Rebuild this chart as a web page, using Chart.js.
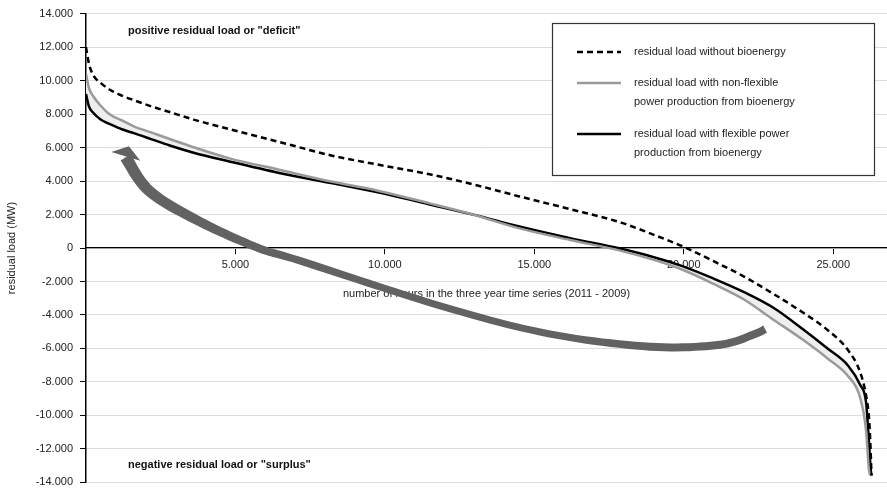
<!DOCTYPE html>
<html>
<head>
<meta charset="utf-8">
<script src="https://cdn.jsdelivr.net/npm/chart.js@4.4.0/dist/chart.umd.min.js"></script>
<style>
  html, body { margin: 0; padding: 0; background: #fff; }
  #wrap { width: 887px; height: 496px; }
</style>
</head>
<body>
<div id="wrap"><canvas id="loadChart" width="887" height="496"></canvas></div>
<script>
// hours of the sorted duration curve (x) and residual load in MW (y)
var hours = [0, 100, 250, 500, 800, 1200, 1600, 2200, 2800, 3600, 4800, 6500, 8200, 9800, 11500, 13000,
             14500, 16200, 17900, 19000, 20000, 21000, 22000, 23000, 24000, 24800, 25500, 25900, 26100, 26200, 26250, 26280];
var withoutBio = [12000, 11000, 10300, 9850, 9450, 9100, 8830, 8450, 8120, 7670, 7100, 6320, 5530, 4970, 4400, 3780,
                  3080, 2320, 1517, 787, 70, -790, -1690, -2740, -3870, -4880, -6110, -7410, -8810, -10210, -11960, -13590];
var nonFlexible = [10400, 9550, 9050, 8480, 7970, 7620, 7270, 6890, 6510, 6020, 5355, 4660, 3970, 3410, 2665, 1970,
                   1170, 480, -170, -710, -1330, -2150, -3060, -4280, -5500, -6580, -7660, -8930, -10900, -13300, -13550, -13600];
var flexible = [9200, 8450, 8060, 7660, 7400, 7090, 6860, 6490, 6120, 5690, 5165, 4470, 3880, 3320, 2600, 1980,
                1280, 583, -50, -550, -1110, -1830, -2620, -3570, -4870, -5990, -7030, -8170, -9220, -11670, -13130, -13600];

var xTickValues = [5000, 10000, 15000, 20000, 25000];
var seriesNames = ['residual load without bioenergy',
                   'residual load with non-flexible power production from bioenergy',
                   'residual load with flexible power production from bioenergy'];
var legendLines = [['residual load without bioenergy'],
                   ['residual load with non-flexible', 'power production from bioenergy'],
                   ['residual load with flexible power', 'production from bioenergy']];
var deficitText = 'positive residual load or "deficit"';
var surplusText = 'negative residual load or "surplus"';
var xTitle = 'number of hours in the three year time series (2011 - 2009)';
var yTitle = 'residual load (MW)';

// the curved arrow (hours / MW), from the head to the tail
var arrowHours = [1326, 2132, 3806, 5766, 7152, 11940, 15520, 18870, 21210, 22380, 22720];
var arrowLoads = [5425, 3383, 1575, 0, -758, -3500, -5133, -5892, -5775, -5133, -4840];
var arrowHead = [[1436, 6084], [847, 5734], [1818, 5209]];

var FONT = '"Liberation Sans", Arial, Helvetica, sans-serif';
Chart.defaults.font.family = FONT;
Chart.defaults.font.size = 11;
Chart.defaults.color = '#222';

function fmt(v) {
    var s = Math.abs(v).toString().replace(/\B(?=(\d{3})+(?!\d))/g, '.');
    return (v < 0 ? '-' : '') + s;
}

function toXY(values) {
    return hours.map(function (h, i) { return { x: h, y: values[i] }; });
}

var decor = {
    id: 'decor',
    beforeDatasetsDraw: function (chart) {
        var ctx = chart.ctx, xs = chart.scales.x, ys = chart.scales.y;
        var widths = [12, 11, 9.5, 8, 7.5, 7, 7, 8, 8, 8, 8];
        var pts = arrowHours.map(function (h, i) {
            return { x: xs.getPixelForValue(h), y: ys.getPixelForValue(arrowLoads[i]), w: widths[i] };
        });
        // catmull-rom through the points
        var samp = [];
        for (var i = 0; i < pts.length - 1; i++) {
            var p0 = pts[Math.max(i - 1, 0)], p1 = pts[i], p2 = pts[i + 1], p3 = pts[Math.min(i + 2, pts.length - 1)];
            for (var s = 0; s < 12; s++) {
                var t = s / 12, t2 = t * t, t3 = t2 * t;
                samp.push({
                    x: 0.5 * (2 * p1.x + (-p0.x + p2.x) * t + (2 * p0.x - 5 * p1.x + 4 * p2.x - p3.x) * t2 + (-p0.x + 3 * p1.x - 3 * p2.x + p3.x) * t3),
                    y: 0.5 * (2 * p1.y + (-p0.y + p2.y) * t + (2 * p0.y - 5 * p1.y + 4 * p2.y - p3.y) * t2 + (-p0.y + 3 * p1.y - 3 * p2.y + p3.y) * t3),
                    w: p1.w + (p2.w - p1.w) * t
                });
            }
        }
        samp.push(pts[pts.length - 1]);
        var left = [], right = [];
        samp.forEach(function (p, k) {
            var a = samp[Math.max(k - 1, 0)], b = samp[Math.min(k + 1, samp.length - 1)];
            var dx = b.x - a.x, dy = b.y - a.y, len = Math.sqrt(dx * dx + dy * dy) || 1;
            var nx = -dy / len, ny = dx / len;
            left.push([p.x + nx * p.w / 2, p.y + ny * p.w / 2]);
            right.push([p.x - nx * p.w / 2, p.y - ny * p.w / 2]);
        });
        ctx.save();
        ctx.fillStyle = '#626262';
        ctx.beginPath();
        left.forEach(function (p, k) { if (k === 0) ctx.moveTo(p[0], p[1]); else ctx.lineTo(p[0], p[1]); });
        for (var j = right.length - 1; j >= 0; j--) ctx.lineTo(right[j][0], right[j][1]);
        ctx.closePath();
        ctx.fill();
        ctx.beginPath();
        arrowHead.forEach(function (p, k) {
            var px = xs.getPixelForValue(p[0]), py = ys.getPixelForValue(p[1]);
            if (k === 0) ctx.moveTo(px, py); else ctx.lineTo(px, py);
        });
        ctx.closePath();
        ctx.fill();
        ctx.restore();
    },
    afterDraw: function (chart) {
        var ctx = chart.ctx, area = chart.chartArea;
        ctx.save();
        // region labels
        ctx.font = 'bold 11px ' + FONT;
        ctx.fillStyle = '#111';
        ctx.textBaseline = 'middle';
        ctx.textAlign = 'left';
        ctx.fillText(deficitText, area.left + 42, area.top + 17);
        ctx.fillText(surplusText, area.left + 42, area.bottom - 17);

        // legend box
        var bx = 552, by = 23, bw = 322, bh = 152;
        ctx.fillStyle = '#fff';
        ctx.fillRect(bx, by, bw, bh);
        ctx.strokeStyle = '#333';
        ctx.lineWidth = 1.2;
        ctx.strokeRect(bx + 0.5, by + 0.5, bw, bh);
        var rows = [52, 83, 134];
        var styles = [
            { color: '#000', dash: [6, 4] },
            { color: '#9a9a9a', dash: [] },
            { color: '#000', dash: [] }
        ];
        ctx.font = '11px ' + FONT;
        rows.forEach(function (y, i) {
            ctx.strokeStyle = styles[i].color;
            ctx.lineWidth = 2.5;
            ctx.setLineDash(styles[i].dash);
            ctx.beginPath();
            ctx.moveTo(577, y);
            ctx.lineTo(621, y);
            ctx.stroke();
            ctx.setLineDash([]);
            ctx.fillStyle = '#222';
            legendLines[i].forEach(function (line, k) {
                ctx.fillText(line, 634, y + k * 18.7);
            });
        });
        ctx.restore();
    }
};

var ctx = document.getElementById('loadChart').getContext('2d');
var loadChart = new Chart(ctx, {
    type: 'line',
    data: {
        datasets: [
            {
                label: seriesNames[0],
                data: toXY(withoutBio),
                borderColor: '#000',
                borderWidth: 2.5,
                borderDash: [6, 4],
                pointRadius: 0,
                fill: false,
                cubicInterpolationMode: 'monotone'
            },
            {
                label: seriesNames[1],
                data: toXY(nonFlexible),
                borderColor: '#9a9a9a',
                backgroundColor: '#eeeeee',
                borderWidth: 2.5,
                pointRadius: 0,
                fill: '+1',
                cubicInterpolationMode: 'monotone'
            },
            {
                label: seriesNames[2],
                data: toXY(flexible),
                borderColor: '#000',
                borderWidth: 2.5,
                pointRadius: 0,
                fill: false,
                cubicInterpolationMode: 'monotone'
            }
        ]
    },
    options: {
        responsive: false,
        animation: false,
        layout: { padding: { top: 10, bottom: 6, left: 0, right: 0 } },
        scales: {
            x: {
                type: 'linear',
                position: { y: 0 },
                min: 0,
                max: 26800,
                afterBuildTicks: function (scale) {
                    scale.ticks = xTickValues.map(function (v) { return { value: v }; });
                },
                grid: { drawOnChartArea: false, tickLength: 6, tickColor: '#000' },
                border: { color: '#000', width: 1.2 },
                ticks: {
                    padding: 4,
                    maxRotation: 0,
                    autoSkip: false,
                    callback: function (v) { return fmt(v); }
                },
                title: { display: true, text: xTitle, font: { size: 11 }, padding: { top: 12, bottom: 0 } }
            },
            y: {
                min: -14000,
                max: 14000,
                grid: { color: '#dddddd', tickLength: 6, tickColor: '#000' },
                border: { color: '#000', width: 1.5 },
                ticks: { stepSize: 2000, padding: 7, callback: function (v) { return fmt(v); } },
                title: { display: true, text: yTitle, font: { size: 11 }, padding: { top: 5, bottom: 0 } },
                afterFit: function (scale) { scale.width = 86; }
            }
        },
        plugins: {
            legend: { display: false },
            tooltip: { enabled: false },
            filler: { drawTime: 'beforeDatasetsDraw' }
        }
    },
    plugins: [decor]
});
</script>
</body>
</html>
